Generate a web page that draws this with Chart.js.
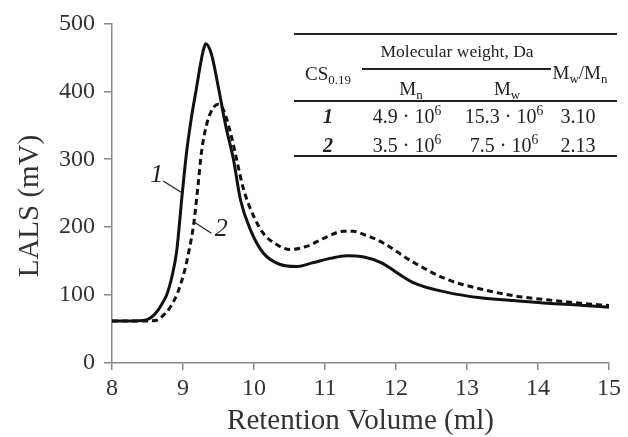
<!DOCTYPE html>
<html>
<head>
<meta charset="utf-8">
<script src="https://cdn.jsdelivr.net/npm/chart.js@4.4.1/dist/chart.umd.min.js"></script>
<style>
  body { margin: 0; background: #fff; }
  #wrap { position: relative; width: 628px; height: 437px; }
  #tbl { position: absolute; left: 0; top: 0; width: 628px; height: 437px; pointer-events: none;
         font-family: "Liberation Serif", "Times New Roman", serif; color: #222; }
  #tbl .c { position: absolute; transform: translate(-50%, -50%); white-space: nowrap; line-height: 1; }
  #tbl .r { position: absolute; background: #222; }
  #tbl sub, #tbl sup { font-size: 68%; line-height: 0; }
</style>
</head>
<body>
<div id="wrap">
  <canvas id="chart"></canvas>
  <div id="tbl"></div>
</div>
<script>
// curve 1 (solid) and curve 2 (dashed): retention volume (ml) / LALS (mV)
const vol1 = [8.0, 8.3, 8.44, 8.55, 8.65, 8.72, 8.77, 8.85, 8.91, 8.99, 9.05, 9.12, 9.19, 9.25, 9.29, 9.32, 9.4, 9.5, 9.6, 9.71, 9.81, 9.95, 10.13, 10.37, 10.6, 10.84, 11.07, 11.31, 11.55, 11.78, 12.25, 12.72, 13.19, 13.66, 14.13, 14.6, 15.0];
const lals1 = [62, 62, 62.5, 67, 78, 90, 100, 130, 164, 250, 310, 362, 405, 442, 462, 470, 455, 405, 350, 300, 240, 196, 162, 145, 142, 148, 154, 158, 156, 148, 118, 104, 96, 92, 88, 85, 82];

const vol2 = [8.0, 8.5, 8.63, 8.72, 8.82, 8.93, 9.02, 9.08, 9.15, 9.21, 9.26, 9.33, 9.41, 9.5, 9.58, 9.69, 9.85, 10.0, 10.13, 10.28, 10.51, 10.75, 10.99, 11.26, 11.4, 11.55, 11.78, 12.25, 12.72, 13.19, 13.66, 14.13, 14.6, 15.0];
const lals2 = [62, 62, 63, 70, 82, 105, 135, 163, 204, 260, 310, 350, 373, 381, 370, 330, 257, 215, 191, 177, 167, 172, 184, 194, 194, 189, 179, 148, 123, 109, 99, 93, 88, 84.5];

const xTicks = [8, 9, 10, 11, 12, 13, 14, 15];
const yTicks = [0, 100, 200, 300, 400, 500];

// inset table
const sampleNames = ['1', '2'];
const mnValues = ['4.9', '3.5'];
const mwValues = ['15.3', '7.5'];
const ratioValues = ['3.10', '2.13'];

// curve labels, in data units
const curveLabels = [
  { text: '1', at: [8.63, 277], from: [8.72, 268], to: [8.98, 251] },
  { text: '2', at: [9.54, 197], from: [9.15, 208], to: [9.4, 191] }
];

const serif = '"Liberation Serif", "Times New Roman", serif';

const toPoints = (xs, ys) => xs.map((v, i) => ({ x: v, y: ys[i] }));

const annotate = {
  id: 'annotate',
  afterDraw(chart) {
    const { ctx, scales: { x, y } } = chart;
    ctx.save();
    ctx.fillStyle = '#333';
    ctx.font = '29px ' + serif;
    ctx.textAlign = 'center';
    ctx.textBaseline = 'middle';
    ctx.translate(30, 206);
    ctx.rotate(-Math.PI / 2);
    ctx.fillText('LALS (mV)', 0, 0);
    ctx.restore();

    ctx.save();
    ctx.strokeStyle = '#222';
    ctx.lineWidth = 1.3;
    ctx.fillStyle = '#222';
    ctx.font = 'italic 26px ' + serif;
    ctx.textAlign = 'center';
    ctx.textBaseline = 'middle';
    curveLabels.forEach(l => {
      ctx.beginPath();
      ctx.moveTo(x.getPixelForValue(l.from[0]), y.getPixelForValue(l.from[1]));
      ctx.lineTo(x.getPixelForValue(l.to[0]), y.getPixelForValue(l.to[1]));
      ctx.stroke();
      ctx.fillText(l.text, x.getPixelForValue(l.at[0]), y.getPixelForValue(l.at[1]));
    });
    ctx.restore();
  }
};

const axisGrid = { drawOnChartArea: false, color: '#888', lineWidth: 1.5 };

new Chart(document.getElementById('chart'), {
  type: 'line',
  data: {
    datasets: [
      {
        label: '1',
        data: toPoints(vol1, lals1),
        borderColor: '#111',
        borderWidth: 3,
        pointRadius: 0,
        cubicInterpolationMode: 'monotone'
      },
      {
        label: '2',
        data: toPoints(vol2, lals2),
        borderColor: '#111',
        borderWidth: 3,
        borderDash: [6, 4],
        pointRadius: 0,
        cubicInterpolationMode: 'monotone'
      }
    ]
  },
  options: {
    responsive: true,
    maintainAspectRatio: false,
    animation: false,
    layout: { padding: { top: 20, right: 19, left: 0, bottom: 0 } },
    plugins: { legend: { display: false }, tooltip: { enabled: false } },
    scales: {
      x: {
        type: 'linear',
        min: 8,
        max: 15,
        afterBuildTicks: s => { s.ticks = xTicks.map(v => ({ value: v })); },
        afterFit: s => { s.height = 74; },
        grid: { ...axisGrid, tickLength: 7 },
        border: { color: '#888', width: 1.5 },
        ticks: { color: '#333', font: { family: serif, size: 24 }, padding: 4 },
        title: {
          display: true,
          text: 'Retention Volume (ml)',
          color: '#333',
          font: { family: serif, size: 29, lineHeight: 1.1 },
          padding: 0
        }
      },
      y: {
        min: 0,
        max: 500,
        afterBuildTicks: s => { s.ticks = yTicks.map(v => ({ value: v })); },
        afterFit: s => { s.width = 112; },
        grid: { ...axisGrid, tickLength: 8 },
        border: { color: '#888', width: 1.5 },
        ticks: { color: '#333', font: { family: serif, size: 24 }, padding: 9 }
      }
    }
  },
  plugins: [annotate]
});

// inset table as text over the canvas
const tbl = document.getElementById('tbl');
function cell(html, cx, cy, size, extra) {
  const d = document.createElement('div');
  d.className = 'c';
  d.style.left = cx + 'px';
  d.style.top = cy + 'px';
  d.style.fontSize = size + 'px';
  if (extra) d.style.cssText += extra;
  d.innerHTML = html;
  tbl.appendChild(d);
}
function rule(x0, x1, yy, w) {
  const d = document.createElement('div');
  d.className = 'r';
  d.style.left = x0 + 'px';
  d.style.top = (yy - w / 2) + 'px';
  d.style.width = (x1 - x0) + 'px';
  d.style.height = w + 'px';
  tbl.appendChild(d);
}
rule(294, 617, 34, 2);
rule(362, 551, 69, 1.3);
rule(294, 617, 101, 2);
rule(294, 617, 156, 2);
cell('Molecular weight, Da', 457, 52, 17.5);
cell('CS<sub>0.19</sub>', 328, 73, 19);
cell('M<sub>w</sub>/M<sub>n</sub>', 580, 72, 19);
cell('M<sub>n</sub>', 411, 88, 19);
cell('M<sub>w</sub>', 507, 88, 19);
const rowY = [116, 145];
sampleNames.forEach((n, i) => {
  cell(n, 328, rowY[i], 20, 'font-weight:bold;font-style:italic;');
  cell(mnValues[i] + ' &middot; 10<sup>6</sup>', 407, rowY[i], 20);
  cell(mwValues[i] + ' &middot; 10<sup>6</sup>', 504, rowY[i], 20);
  cell(ratioValues[i], 578, rowY[i], 20);
});
</script>
</body>
</html>
